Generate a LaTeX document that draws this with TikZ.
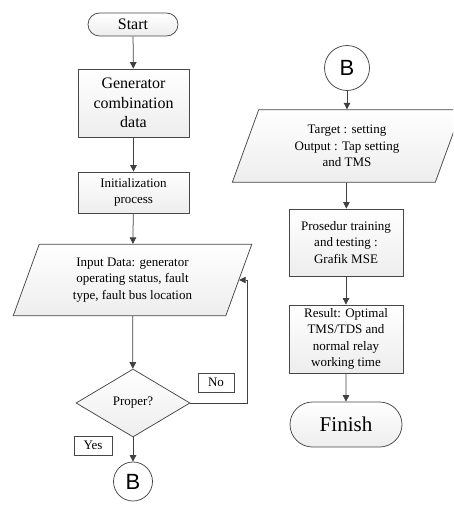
\documentclass[tikz,border=0pt]{standalone}
\usepackage{fontspec}
\setmainfont{Liberation Serif}
\newfontfamily\conFont{Liberation Sans}
\usetikzlibrary{shapes.geometric,shapes.misc,arrows.meta}

\begin{document}
\begin{tikzpicture}[x=1pt,y=-1pt,
    outline/.style={draw=black!72, line width=0.75pt},
    softfill/.style={top color=white, bottom color=blue!4!black!7},
    txt/.style={font=\rmfamily\fontsize{13}{16.5}\selectfont, align=center},
    termbox/.style={outline, softfill, rounded rectangle, inner sep=1pt},
    procbox/.style={outline, softfill, rectangle, txt, minimum width=111, inner sep=1pt},
    iobox/.style={outline, softfill, trapezium, trapezium left angle=70, trapezium right angle=110, txt, inner sep=1pt},
    decbox/.style={outline, softfill, diamond, txt, minimum width=114, minimum height=68, inner sep=0pt},
    conbox/.style={outline, fill=white, circle, font=\conFont\fontsize{22}{22}\selectfont, inner sep=0pt},
    tagbox/.style={outline, fill=white, rectangle, txt, minimum height=19, inner sep=2pt},
    conn/.style={draw=black!75, line width=0.75pt, -{Triangle[length=6.5pt,width=6.5pt]}}]
  \useasboundingbox (0,0) rectangle (453,514);
  \clip (0,0) rectangle (453,514);

  % left column
  \node[termbox, minimum width=92, minimum height=23, font=\rmfamily\fontsize{16}{19}\selectfont] (start) at (133,24.5) {Start};
  \node[procbox, minimum height=68, font=\rmfamily\fontsize{16}{19.5}\selectfont] (gen) at (133.5,103) {Generator\\combination\\data};
  \node[procbox, minimum height=41] (init) at (133.5,192.5) {Initialization\\process};
  \node[iobox, minimum width=239, minimum height=70] (inp) at (132.5,280) {Input Data: generator\\operating status, fault\\type, fault bus location};
  \node[decbox] (prop) at (133,403) {Proper?};
  \node[tagbox, minimum width=36] (no) at (216,382.5) {No};
  \node[tagbox, minimum width=38] (yes) at (93,445.5) {Yes};
  \node[conbox, minimum size=39] (bleft) at (133,481.5) {B};
  \coordinate (loop) at (247,403);

  % right column
  \node[conbox, minimum size=45] (bright) at (347,68) {B};
  \node[iobox, minimum width=230, minimum height=68] (tgt) at (347,146) {Target : setting\\Output : Tap setting\\and TMS};
  \node[procbox, minimum width=114, minimum height=67] (train) at (346,242.5) {Prosedur training\\and testing :\\Grafik MSE};
  \node[procbox, minimum width=114, minimum height=68] (res) at (346,339) {Result: Optimal\\TMS/TDS and\\normal relay\\working time};
  \node[termbox, minimum width=114, minimum height=45, font=\rmfamily\fontsize{21}{25}\selectfont] (fin) at (346,424.5) {Finish};

  \draw[conn] (start) -- (gen);
  \draw[conn] (gen) -- (init);
  \draw[conn] (init) -- (inp);
  \draw[conn] (inp) -- (prop);
  \draw[conn] (prop.east) -- (loop) |- (inp.east);
  \draw[conn] (prop) -- (bleft);

  \draw[conn] (bright) -- (tgt);
  \draw[conn] (tgt) -- (train);
  \draw[conn] (train) -- (res);
  \draw[conn] (res) -- (fin);
\end{tikzpicture}
\end{document}
